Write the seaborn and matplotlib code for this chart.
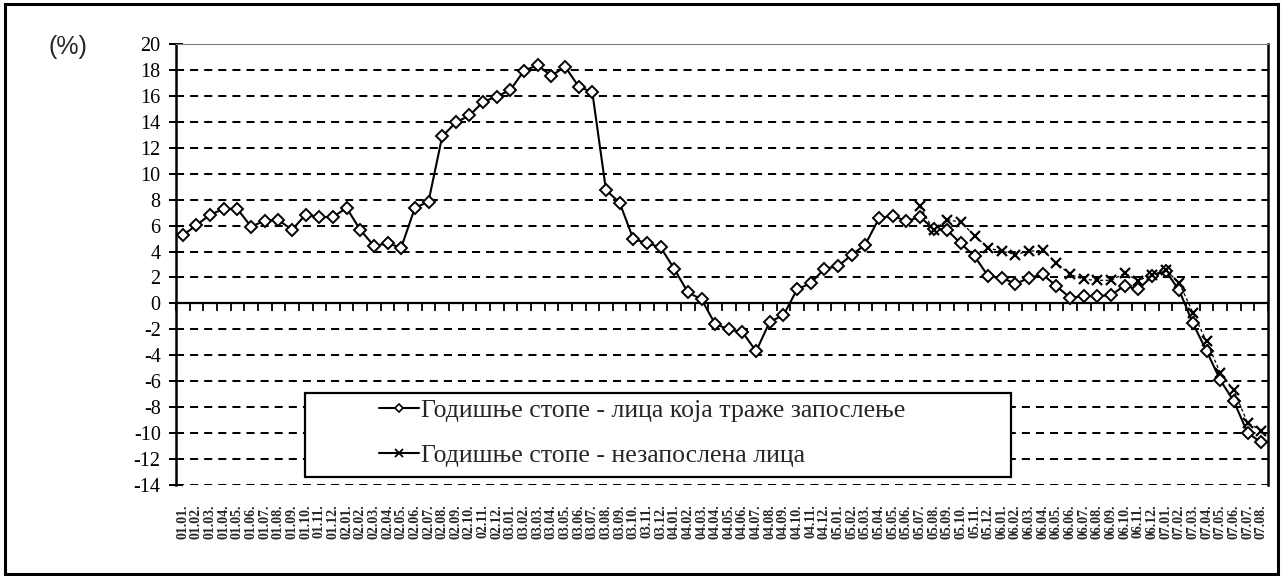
import numpy as np
import pandas as pd
import matplotlib
matplotlib.use("Agg")
import matplotlib.pyplot as plt
import seaborn as sns
from matplotlib.lines import Line2D
from matplotlib.patches import Rectangle

# ---------------- data ----------------
months = [
    "01.01.", "01.02.", "01.03.", "01.04.", "01.05.", "01.06.", "01.07.", "01.08.", "01.09.", "01.10.", "01.11.", "01.12.",
    "02.01.", "02.02.", "02.03.", "02.04.", "02.05.", "02.06.", "02.07.", "02.08.", "02.09.", "02.10.", "02.11.", "02.12.",
    "03.01.", "03.02.", "03.03.", "03.04.", "03.05.", "03.06.", "03.07.", "03.08.", "03.09.", "03.10.", "03.11.", "03.12.",
    "04.01.", "04.02.", "04.03.", "04.04.", "04.05.", "04.06.", "04.07.", "04.08.", "04.09.", "04.10.", "04.11.", "04.12.",
    "05.01.", "05.02.", "05.03.", "05.04.", "05.05.", "05.06.", "05.07.", "05.08.", "05.09.", "05.10.", "05.11.", "05.12.",
    "06.01.", "06.02.", "06.03.", "06.04.", "06.05.", "06.06.", "06.07.", "06.08.", "06.09.", "06.10.", "06.11.", "06.12.",
    "07.01.", "07.02.", "07.03.", "07.04.", "07.05.", "07.06.", "07.07.", "07.08.",
]

job_seekers = [
    5.26, 6.03, 6.85, 7.28, 7.28, 5.92, 6.38, 6.44, 5.67, 6.85, 6.64, 6.67,
    7.36, 5.67, 4.44, 4.62, 4.31, 7.36, 7.85, 12.87, 13.95, 14.49, 15.54, 15.95,
    16.46, 17.95, 18.36, 17.54, 18.26, 16.72, 16.28, 8.74, 7.77, 4.97, 4.64, 4.33,
    2.67, 0.85, 0.31, -1.59, -2.00, -2.21, -3.69, -1.41, -0.92, 1.08, 1.56, 2.67,
    2.87, 3.74, 4.54, 6.56, 6.77, 6.33, 6.67, 5.75, 5.64, 4.62, 3.64, 2.10,
    1.97, 1.51, 1.97, 2.23, 1.33, 0.44, 0.56, 0.56, 0.64, 1.38, 1.08, 2.10,
    2.50, 1.00, -1.54, -3.67, -5.90, -7.55, -9.97, -10.72,
]

unemployed_start = "05.07."
unemployed = [
    7.49, 5.64, 6.46, 6.26, 5.23, 4.26, 4.03, 3.77, 4.03, 4.08, 3.13, 2.23,
    1.85, 1.78, 1.78, 2.33, 1.76, 2.20, 2.56, 1.58, -0.72, -2.93, -5.35, -6.70,
    -9.20, -9.80,
]

label_1 = "Годишње стопе - лица која траже запослење"
label_2 = "Годишње стопе - незапослена лица"
y_ticks = list(range(-14, 21, 2))

# ---------------- frames ----------------
idx = np.arange(len(months))
df1 = pd.DataFrame({"pos": idx, "value": job_seekers})
start = months.index(unemployed_start)
df2 = pd.DataFrame({"pos": idx[start:start + len(unemployed)], "value": unemployed})

# ---------------- style ----------------
sns.set_style("white")
plt.rcParams["font.family"] = ["Liberation Serif", "DejaVu Serif"]

W, H = 1281, 576
fig = plt.figure(figsize=(W / 100, H / 100), dpi=100)
ax = fig.add_axes([176 / W, 1 - 485 / H, (1268 - 176) / W, (485 - 44) / H])

sns.lineplot(data=df1, x="pos", y="value", ax=ax, color="black", lw=1.5,
             marker="D", markersize=6, markerfacecolor="white",
             markeredgecolor="black", markeredgewidth=1.4, zorder=3)
sns.lineplot(data=df2, x="pos", y="value", ax=ax, color="black", lw=0.9,
             linestyle=(0, (2.5, 2)), marker="x", markersize=7.5,
             markeredgecolor="black", markeredgewidth=1.6, zorder=3.2)

ax.set_xlim(-0.5, len(months) - 0.5)
ax.set_ylim(-14, 20)
ax.set_xlabel("")
ax.set_ylabel("")

# y axis
ax.set_yticks(y_ticks)
ax.set_yticklabels([str(v) for v in y_ticks])
ax.tick_params(axis="y", direction="inout", length=10, width=1.4,
               labelsize=14.5, pad=6, colors="black", left=True)
ax.yaxis.grid(True, linestyle=(0, (4, 3)), color="black", lw=1.45)
ax.xaxis.grid(False)

# x axis line at zero with category-boundary ticks
ax.spines["bottom"].set_position(("data", 0))
ax.spines["bottom"].set_linewidth(1.6)
ax.spines["left"].set_linewidth(1.8)
ax.spines["right"].set_linewidth(1.8)
ax.spines["top"].set_linewidth(0.8)
ax.spines["top"].set_color("#808080")
for s in ["bottom", "left", "right"]:
    ax.spines[s].set_color("black")
ax.set_xticks(np.arange(-0.5, len(months), 1.0))
ax.tick_params(axis="x", direction="out", length=6, width=1.3,
               labelbottom=False, bottom=True, colors="black")

# category labels at the bottom of the plot area
sec = ax.secondary_xaxis("bottom")
sec.set_xticks(idx)
sec.set_xticklabels(months, rotation=90, fontsize=10, fontweight="bold")
sec.tick_params(length=0, pad=14)
sec.spines["bottom"].set_visible(False)

# unit label
fig.text(68 / W, 1 - 47 / H, "(%)", family="Liberation Sans", fontsize=18,
         ha="center", va="center")

# legend box and legend
box = Rectangle((305 / W, 1 - 477 / H), (1011 - 305) / W, (477 - 393) / H,
                transform=fig.transFigure, facecolor="white", edgecolor="black",
                lw=1.6, zorder=4, clip_on=False)
ax.add_patch(box)
handles = [
    Line2D([], [], color="black", lw=1.5, marker="D", markersize=4.5,
           markerfacecolor="white", markeredgecolor="black", markeredgewidth=1.2),
    Line2D([], [], color="black", lw=1.5, marker="x", markersize=5.5,
           markeredgewidth=1.3),
]
leg = ax.legend(handles, [label_1, label_2], loc="center left",
                bbox_to_anchor=(366 / W, 1 - 433 / H),
                bbox_transform=fig.transFigure, frameon=False, fontsize=18.5,
                borderpad=0, handlelength=1.55, handletextpad=0.1,
                labelspacing=0.85)
leg.set_zorder(5)

# outer frame
fig.add_artist(Rectangle((5 / W, 1 - 574 / H), (1278 - 5) / W, (574 - 4) / H,
                         transform=fig.transFigure, facecolor="none",
                         edgecolor="black", lw=2.2))

fig.savefig("out.png", dpi=100)
